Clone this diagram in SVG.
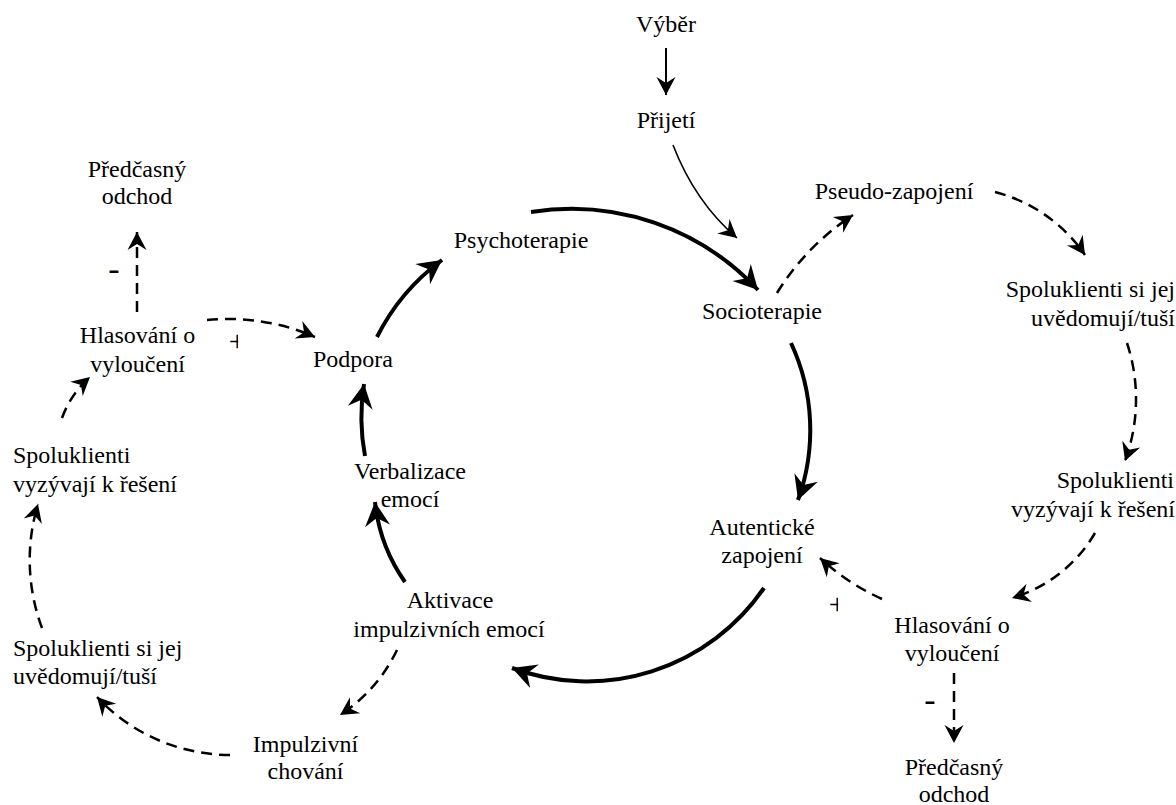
<svg xmlns="http://www.w3.org/2000/svg" width="1176" height="805" viewBox="0 0 1176 805">
  <style>
    .lbl { font-size: 24px; fill: #000; }
    .mid { text-anchor: middle; }
    .end { text-anchor: end; }
    .sign { fill: #000; text-anchor: middle; }
    .thick { fill: none; stroke: #000; stroke-width: 4; }
    .thin { fill: none; stroke: #000; stroke-width: 1.6; }
    .solid { fill: none; stroke: #000; stroke-width: 2; }
    .dash { fill: none; stroke: #000; stroke-width: 2.5; stroke-dasharray: 11 7; }
  </style>
  <defs>
    <marker id="ah" markerUnits="userSpaceOnUse" viewBox="-20 -12 22 24" markerWidth="22" markerHeight="24" refX="0" refY="0" orient="auto">
      <path d="M0,0 L-18,-9.5 L-12,0 L-18,9.5 Z" fill="#000"/>
    </marker>
    <marker id="ahBig" markerUnits="userSpaceOnUse" viewBox="-27 -14 29 28" markerWidth="29" markerHeight="28" refX="0" refY="0" orient="auto">
      <path d="M0,0 L-24,-12.5 L-16,0 L-24,12.5 Z" fill="#000"/>
    </marker>
    <clipPath id="clipPlusL"><rect x="225" y="330" width="13.2" height="25"/></clipPath>
    <clipPath id="clipPlusR"><rect x="825" y="594" width="13.2" height="25"/></clipPath>
  </defs>

  <g font-family="'Liberation Serif', 'Times New Roman', Times, 'DejaVu Serif', serif">
  <!-- connectors -->
  <g id="connectors">
    <!-- intake -->
    <path class="solid" d="M666,48 L666,95" marker-end="url(#ah)"/>
    <path class="thin" d="M673,145 Q695,202 737,238" marker-end="url(#ah)"/>

    <!-- main therapeutic loop -->
    <path class="thick" d="M531,212 A255,255 0 0,1 758,290" marker-end="url(#ahBig)"/>
    <path class="thick" d="M791,343 A206,206 0 0,1 798,500" marker-end="url(#ahBig)"/>
    <path class="thick" d="M764,588 A215,215 0 0,1 512,668" marker-end="url(#ahBig)"/>
    <path class="thick" d="M405,582 A170,170 0 0,1 375,502" marker-end="url(#ahBig)"/>
    <path class="thick" d="M365,456 A211,211 0 0,1 364,384" marker-end="url(#ahBig)"/>
    <path class="thick" d="M377,337 A215,215 0 0,1 442,260" marker-end="url(#ahBig)"/>

    <!-- right loop: pseudo-engagement -->
    <path class="dash" d="M777,293 A250,250 0 0,1 853,215" marker-end="url(#ah)"/>
    <path class="dash" d="M995,192 A156,156 0 0,1 1085,255" marker-end="url(#ah)"/>
    <path class="dash" d="M1127,343 A179,179 0 0,1 1125,461" marker-end="url(#ah)"/>
    <path class="dash" d="M1095,533 A143,143 0 0,1 1012,598" marker-end="url(#ah)"/>
    <path class="dash" d="M882,599 A230,230 0 0,1 820,558" marker-end="url(#ah)"/>
    <path class="dash" d="M954,673 L954,743" marker-end="url(#ah)"/>

    <!-- left loop: impulsive behaviour -->
    <path class="dash" d="M397,650 A159,159 0 0,1 340,715" marker-end="url(#ah)"/>
    <path class="dash" d="M230,755 A183,183 0 0,1 97,697" marker-end="url(#ah)"/>
    <path class="dash" d="M42,628 A194,194 0 0,1 38,504" marker-end="url(#ah)"/>
    <path class="dash" d="M62,418 A100,100 0 0,1 90,377" marker-end="url(#ah)"/>
    <path class="dash" d="M137,312 L137,232" marker-end="url(#ah)"/>
    <path class="dash" d="M207,320 A217,217 0 0,1 315,337" marker-end="url(#ah)"/>

    <!-- link polarity signs -->
    <text class="sign" x="237.3" y="350.5" font-size="30" clip-path="url(#clipPlusL)">+</text>
    <text class="sign" x="837.3" y="614.2" font-size="30" clip-path="url(#clipPlusR)">+</text>
    <text class="sign" x="114" y="279.5" font-size="34">-</text>
    <text class="sign" x="930" y="710.7" font-size="34">-</text>
  </g>

  <!-- nodes -->
  <g id="n-vyber"><text class="lbl mid" x="666" y="32">Výběr</text></g>
  <g id="n-prijeti"><text class="lbl mid" x="666" y="128">Přijetí</text></g>
  <g id="n-psychoterapie"><text class="lbl mid" x="521" y="248">Psychoterapie</text></g>
  <g id="n-socioterapie"><text class="lbl mid" x="762" y="319">Socioterapie</text></g>
  <g id="n-pseudo"><text class="lbl mid" x="894" y="199">Pseudo-zapojení</text></g>
  <g id="n-spol-tusi-r"><text class="lbl end" x="1175" y="297">Spoluklienti si jej<tspan x="1175" dy="28.5">uvědomují/tuší</tspan></text></g>
  <g id="n-spol-vyzyvaji-r"><text class="lbl end" x="1174" y="488">Spoluklienti<tspan x="1175" dy="28.5">vyzývají k řešení</tspan></text></g>
  <g id="n-hlasovani-r"><text class="lbl mid" x="952" y="633">Hlasování o<tspan x="952" dy="28">vyloučení</tspan></text></g>
  <g id="n-predcasny-r"><text class="lbl mid" x="954" y="775">Předčasný<tspan x="954" dy="26.5">odchod</tspan></text></g>
  <g id="n-autenticke"><text class="lbl mid" x="762" y="535">Autentické<tspan x="762" dy="28">zapojení</tspan></text></g>
  <g id="n-aktivace"><text class="lbl mid" x="450" y="608">Aktivace<tspan x="449" dy="28.5">impulzivních emocí</tspan></text></g>
  <g id="n-verbalizace"><text class="lbl mid" x="410" y="479">Verbalizace<tspan x="410" dy="28">emocí</tspan></text></g>
  <g id="n-podpora"><text class="lbl mid" x="353" y="367">Podpora</text></g>
  <g id="n-hlasovani-l"><text class="lbl mid" x="137.5" y="343">Hlasování o<tspan x="137.5" dy="28.5">vyloučení</tspan></text></g>
  <g id="n-predcasny-l"><text class="lbl mid" x="137" y="176.5">Předčasný<tspan x="137" dy="27.5">odchod</tspan></text></g>
  <g id="n-spol-vyzyvaji-l"><text class="lbl" x="13" y="463">Spoluklienti<tspan x="13" dy="28.5">vyzývají k řešení</tspan></text></g>
  <g id="n-spol-tusi-l"><text class="lbl" x="13" y="656">Spoluklienti si jej<tspan x="13" dy="27.5">uvědomují/tuší</tspan></text></g>
  <g id="n-impulzivni"><text class="lbl mid" x="305.5" y="752">Impulzivní<tspan x="305.5" dy="26.5">chování</tspan></text></g>
  </g>
</svg>
